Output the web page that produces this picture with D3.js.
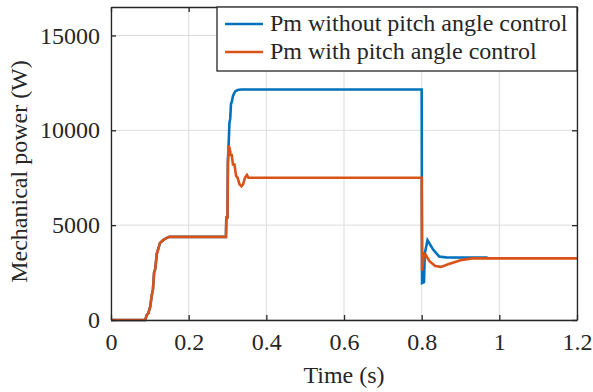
<!DOCTYPE html>
<html><head><meta charset="utf-8">
<script src="https://cdn.jsdelivr.net/npm/d3@7"></script>
<style>body{margin:0;background:#fff}svg{display:block}</style>
</head><body>
<svg id="c" width="593" height="392" font-family="'Liberation Serif', 'Times New Roman', serif"></svg>
<script>
// Time (s) samples and mechanical power (W)
const tWithout = [0, 0.088, 0.092, 0.096, 0.101, 0.105, 0.108, 0.111, 0.114, 0.118, 0.121, 0.126, 0.131, 0.137, 0.143, 0.150, 0.160, 0.296, 0.297, 0.300, 0.301, 0.303, 0.305, 0.307, 0.309, 0.311, 0.314, 0.317, 0.320, 0.326, 0.335, 0.800, 0.801, 0.806, 0.808, 0.815, 0.830, 0.845, 0.862, 0.970];
const pWithout = [0, 0, 250, 350, 700, 1300, 1600, 2500, 2700, 3500, 3700, 4050, 4150, 4250, 4320, 4380, 4380, 4380, 5400, 5400, 8300, 9300, 10400, 10600, 11400, 11500, 11800, 11950, 12050, 12120, 12150, 12150, 1950, 2000, 3500, 4200, 3700, 3350, 3300, 3290];
const tWith = [0, 0.088, 0.092, 0.096, 0.101, 0.105, 0.108, 0.111, 0.114, 0.118, 0.121, 0.126, 0.131, 0.137, 0.143, 0.150, 0.160, 0.296, 0.297, 0.300, 0.301, 0.303, 0.306, 0.308, 0.311, 0.314, 0.318, 0.322, 0.326, 0.331, 0.336, 0.340, 0.345, 0.350, 0.354, 0.358, 0.362, 0.800, 0.801, 0.806, 0.810, 0.820, 0.835, 0.850, 0.870, 0.900, 0.930, 1.200];
const pWith = [0, 0, 250, 350, 700, 1300, 1600, 2500, 2700, 3500, 3700, 4050, 4150, 4250, 4320, 4380, 4380, 4380, 5400, 5400, 8300, 9200, 9000, 8700, 8700, 8200, 8200, 7600, 7500, 7150, 7050, 7150, 7500, 7650, 7500, 7500, 7500, 7500, 2600, 3500, 3450, 3100, 2850, 2800, 2950, 3150, 3250, 3250];
const xTicks = [0, 0.2, 0.4, 0.6, 0.8, 1, 1.2];
const xTickLabels = ["0", "0.2", "0.4", "0.6", "0.8", "1", "1.2"];
const yTicks = [0, 5000, 10000, 15000];
const seriesNames = ["Pm without pitch angle control", "Pm with pitch angle control"];
const seriesColors = ["#0072BD", "#D95319"];

const FONT = "'Liberation Serif', 'Times New Roman', serif";
const svg = d3.select("#c");
const m = {l: 111, r: 16, t: 7, b: 72};
const W = 593, H = 392;
const x = d3.scaleLinear().domain([0, 1.2]).range([m.l, W - m.r]);
const y = d3.scaleLinear().domain([0, 16500]).range([H - m.b, m.t]);

// grid
const g = svg.append("g");
g.selectAll(".gx").data(xTicks).join("line")
  .attr("x1", d => x(d)).attr("x2", d => x(d)).attr("y1", y(0)).attr("y2", y(16500))
  .attr("stroke", "#dcdcdc").attr("stroke-width", 1);
g.selectAll(".gy").data(yTicks).join("line")
  .attr("x1", x(0)).attr("x2", x(1.2)).attr("y1", d => y(d)).attr("y2", d => y(d))
  .attr("stroke", "#dcdcdc").attr("stroke-width", 1);

// lines
const line = d3.line().x(d => x(d[0])).y(d => y(d[1]));
const dWithout = tWithout.map((t, i) => [t, pWithout[i]]);
const dWith = tWith.map((t, i) => [t, pWith[i]]);
svg.append("path").datum(dWithout).attr("d", line).attr("fill", "none")
  .attr("stroke", seriesColors[0]).attr("stroke-width", 2.6);
svg.append("path").datum(dWith).attr("d", line).attr("fill", "none")
  .attr("stroke", seriesColors[1]).attr("stroke-width", 2.6);

// axes
const ax = svg.append("g");
const xb = d3.axisBottom(x).tickValues(xTicks).tickFormat((d, i) => xTickLabels[i]).tickSizeInner(-5).tickSizeOuter(0).tickPadding(13);
const yl = d3.axisLeft(y).tickValues(yTicks).tickFormat(d3.format("d")).tickSizeInner(-5).tickSizeOuter(0).tickPadding(11);
const xt = d3.axisTop(x).tickValues(xTicks).tickFormat("").tickSizeInner(-5).tickSizeOuter(0);
const yr = d3.axisRight(y).tickValues(yTicks).tickFormat("").tickSizeInner(-5).tickSizeOuter(0);
[[xb, `translate(0,${y(0)})`], [yl, `translate(${x(0)},0)`], [xt, `translate(0,${y(16500)})`], [yr, `translate(${x(1.2)},0)`]].forEach(([a, tr]) => {
  const gg = ax.append("g").attr("transform", tr).call(a).attr("font-family", FONT);
  gg.select(".domain").attr("stroke", "#262626").attr("stroke-width", 1.3);
  gg.selectAll(".tick line").attr("stroke", "#262626").attr("stroke-width", 1.3);
  gg.selectAll(".tick text").attr("font-family", FONT).attr("font-size", 24).attr("fill", "#262626");
});

// axis titles
svg.append("text").attr("x", x(0.6)).attr("y", 383).attr("text-anchor", "middle")
  .attr("font-family", FONT).attr("font-size", 24).attr("fill", "#262626").text("Time (s)");
svg.append("text").attr("transform", `translate(27,${(y(0) + y(16500)) / 2 + 8}) rotate(-90)`).attr("text-anchor", "middle")
  .attr("font-family", FONT).attr("font-size", 24).attr("fill", "#262626").text("Mechanical power (W)");

// legend
const lg = svg.append("g");
lg.append("rect").attr("x", 217).attr("y", 7).attr("width", x(1.2) - 217).attr("height", 64)
  .attr("fill", "#fff").attr("stroke", "#262626").attr("stroke-width", 1.3);
seriesNames.forEach((n, i) => {
  const yy = 24 + i * 28;
  lg.append("line").attr("x1", 225).attr("x2", 263).attr("y1", yy).attr("y2", yy)
    .attr("stroke", seriesColors[i]).attr("stroke-width", 2.6);
  lg.append("text").attr("x", 270).attr("y", yy + 7).attr("font-family", FONT).attr("font-size", 24)
    .attr("fill", "#262626").text(n);
});
</script>
</body></html>
